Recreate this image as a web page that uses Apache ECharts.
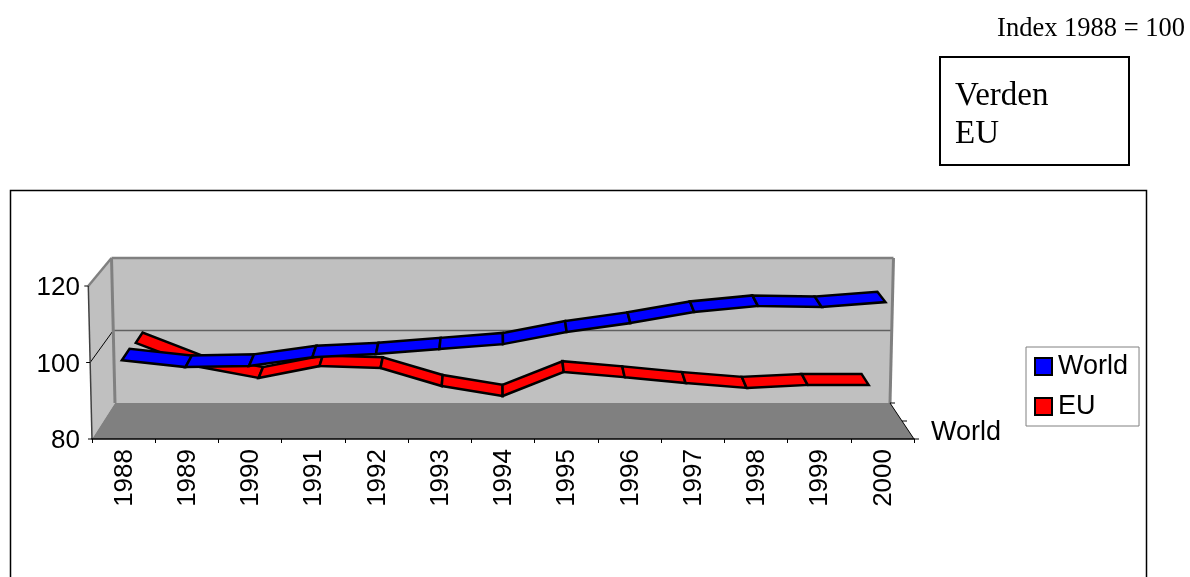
<!DOCTYPE html>
<html><head><meta charset="utf-8">
<style>html,body{margin:0;padding:0;background:#fff}#c{width:1190px;height:577px}</style>
<script src="https://cdn.jsdelivr.net/npm/echarts@6/dist/echarts.min.js"></script>
</head><body><div id="c"></div>
<script>
const categories=['1988','1989','1990','1991','1992','1993','1994','1995','1996','1997','1998','1999','2000'];
const worldValues=[100.6,98.8,99.1,101.4,102.2,103.5,104.8,108,110.3,113.2,114.8,114.5,115.8];
const euValues=[99.7,93.3,90.2,93.4,92.9,88,85.3,91.8,90.4,88.8,87.5,88.3,88.3];
const yTicks={min:80,max:120,interval:20};
const SANS='"Liberation Sans",Arial,sans-serif', SERIF='"Liberation Serif","Times New Roman",serif';
const chart=echarts.init(document.getElementById('c'),null,{renderer:'canvas'});

function projector(api){
  const band=api.size([1,0])[0];
  return function(cat,v,d){
    const p=api.coord([0,v]);
    const t=(v-80)/40;
    const fx=p[0]+cat*band, fy=p[1];
    const bx=115+(fx-92)*775/822, by=403+(fy-439)*145/153;
    let x=fx+(bx-fx)*d, y=fy+(by-fy)*d;
    x=503+(x-503)*(1+0.009*t);
    return [x,y];
  };
}
function poly(pts,fill,stroke,lw){return {type:'polygon',shape:{points:pts},style:{fill:fill,stroke:stroke||null,lineWidth:lw||0,lineJoin:'miter'}};}
function line(a,b,stroke,lw){return {type:'line',shape:{x1:a[0],y1:a[1],x2:b[0],y2:b[1]},style:{stroke:stroke,lineWidth:lw}};}

function renderWalls(params,api){
  const P=projector(api);
  const L=-0.5,R=12.5;
  const ch=[];
  ch.push(poly([P(L,80,1),P(R,80,1),P(R,120,1),P(L,120,1)],'#c0c0c0'));
  ch.push(poly([P(L,80,0),P(L,80,1),P(L,120,1),P(L,120,0)],'#c0c0c0'));
  ch.push(poly([P(L,80,0),P(R,80,0),P(R,80,1),P(L,80,1)],'#808080'));
  ch.push(line(P(L,100,1),P(R,100,1),'#606060',1.5));
  ch.push(line(P(L,100,0),P(L,100,1),'#000',1));
  ch.push(line(P(L,120,0),P(L,120,1),'#808080',2.5));
  ch.push(line(P(L,120,1),P(R,120,1),'#808080',2.5));
  ch.push(line(P(L,80,1),P(L,120,1),'#808080',3));
  ch.push(line(P(R,80,1),P(R,120,1),'#808080',3));
  ch.push(line(P(L,80,0),P(L,120,0),'#404040',1.5));
  [120,100,80].forEach(v=>{const a=P(L,v,0);ch.push(line([a[0]-4,a[1]],a,'#000',1));});
  ch.push(line(P(R,80,0),P(R,80,1),'#000',1));
  [0,0.5,1].forEach(d=>{const a=P(R,80,d);ch.push(line(a,[a[0]+5,a[1]],'#000',1));});
  return {type:'group',children:ch};
}
function ribbon(d0,d1){
  return function(params,api){
    const P=projector(api);
    const i=api.value(0),a=api.value(1),b=api.value(2);
    return poly([P(i,a,d0),P(i+1,b,d0),P(i+1,b,d1),P(i,a,d1)],api.visual('color'),'#000',2.5);
  };
}
const segs=vals=>vals.slice(0,-1).map((v,i)=>[i,v,vals[i+1]]);

chart.setOption({
  animation:false,
  backgroundColor:'#fff',
  grid:{left:92,top:286,width:822,height:153,containLabel:false},
  xAxis:{type:'category',data:categories,boundaryGap:true,z:6,
    axisLine:{lineStyle:{color:'#000',width:1.5}},
    axisTick:{show:true,alignWithLabel:false,length:4,lineStyle:{color:'#000'}},
    axisLabel:{rotate:90,interval:0,margin:10,verticalAlign:'top',padding:[-12,0,0,0],fontFamily:SANS,fontSize:26,color:'#000'},
    splitLine:{show:false}},
  yAxis:{type:'value',min:yTicks.min,max:yTicks.max,interval:yTicks.interval,
    axisLine:{show:false},axisTick:{show:false},splitLine:{show:false},
    axisLabel:{margin:12,verticalAlign:'top',padding:[-11,0,0,0],fontFamily:SANS,fontSize:26,color:'#000'}},
  legend:{data:['World','EU'],left:1026,top:347,orient:'vertical',icon:'rect',
    itemWidth:17,itemHeight:17,itemGap:13,padding:[6,11,6,8],
    backgroundColor:'#fff',borderColor:'#808080',borderWidth:1,
    itemStyle:{borderColor:'#000',borderWidth:2},
    textStyle:{fontFamily:SANS,fontSize:27,color:'#000',padding:[0,0,0,1]}},
  series:[
    {type:'custom',silent:true,z:1,clip:false,data:[[0,100]],renderItem:renderWalls,encode:{x:0,y:1}},
    {type:'custom',name:'EU',z:3,clip:false,itemStyle:{color:'#ff0000'},data:segs(euValues),renderItem:ribbon(0.65,0.97),encode:{x:0,y:1}},
    {type:'custom',name:'World',z:4,clip:false,itemStyle:{color:'#0000ff'},data:segs(worldValues),renderItem:ribbon(0,0.36),encode:{x:0,y:1}}
  ],
  graphic:[
    {type:'rect',silent:true,z:0,shape:{x:10.5,y:190.5,width:1136,height:500},style:{fill:null,stroke:'#000',lineWidth:1.5}},
    {type:'rect',silent:true,shape:{x:940,y:57,width:189,height:108},style:{fill:'#fff',stroke:'#000',lineWidth:2}},
    {type:'text',silent:true,style:{x:1185,y:29,text:'Index 1988 = 100',align:'right',verticalAlign:'middle',font:'26.5px '+SERIF,fill:'#000'}},
    {type:'text',silent:true,style:{x:955,y:96,text:'Verden',verticalAlign:'middle',font:'33px '+SERIF,fill:'#000'}},
    {type:'text',silent:true,style:{x:955,y:134,text:'EU',verticalAlign:'middle',font:'33px '+SERIF,fill:'#000'}},
    {type:'text',silent:true,style:{x:931,y:433,text:'World',verticalAlign:'middle',font:'27px '+SANS,fill:'#000'}}
  ]
});
</script></body></html>
